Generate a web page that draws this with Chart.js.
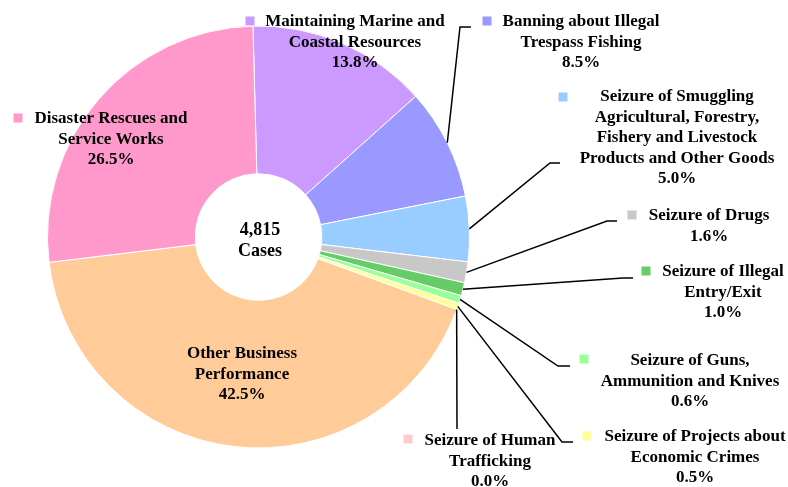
<!DOCTYPE html>
<html>
<head>
<meta charset="utf-8">
<script src="https://cdn.jsdelivr.net/npm/chart.js@4/dist/chart.umd.min.js"></script>
<style>
    html, body { margin: 0; padding: 0; background: #ffffff; }
    #chartBox { width: 788px; height: 487px; }
</style>
</head>
<body>
<div id="chartBox"><canvas id="caseChart" width="788" height="487"></canvas></div>
<script>
// Case breakdown data (shares in %)
const categories = [
    ['Maintaining Marine and', 'Coastal Resources'],
    ['Banning about Illegal', 'Trespass Fishing'],
    ['Seizure of Smuggling', 'Agricultural, Forestry,', 'Fishery and Livestock', 'Products and Other Goods'],
    ['Seizure of Drugs'],
    ['Seizure of Illegal', 'Entry/Exit'],
    ['Seizure of Guns,', 'Ammunition and Knives'],
    ['Seizure of Projects about', 'Economic Crimes'],
    ['Seizure of Human', 'Trafficking'],
    ['Other Business', 'Performance'],
    ['Disaster Rescues and', 'Service Works']
];
const shares = [13.8, 8.5, 5.0, 1.6, 1.0, 0.6, 0.5, 0.0, 42.5, 26.5];
const sliceColors = ['#CC99FF', '#9999FF', '#99CCFF', '#C8C8C8', '#66CC66', '#99FF99', '#FFFF99', '#FFCCCC', '#FFCC99', '#FF99CC'];
const totalCases = '4,815';
const totalUnit = 'Cases';

// Where each label sits (marker, text centre, first line y, leader elbow/end)
const labelLayout = [
    { mx: 250, my: 21, cx: 355, y: 22 },
    { mx: 487, my: 21, cx: 581, y: 22, elbow: [460, 27], end: [471, 27] },
    { mx: 563, my: 97, cx: 677, y: 97, elbow: [550, 163], end: [560, 163] },
    { mx: 632, my: 215, cx: 709, y: 216, elbow: [607, 221], end: [617, 221] },
    { mx: 646, my: 271, cx: 723, y: 272, elbow: [623, 278], end: [633, 278] },
    { mx: 584, my: 359, cx: 690, y: 361, elbow: [558, 366], end: [570, 366] },
    { mx: 587, my: 436, cx: 695, y: 437, elbow: [562, 442], end: [573, 442] },
    { mx: 408, my: 439, cx: 490, y: 441, elbow: [457, 429] },
    { cx: 242, y: 354 },
    { mx: 18, my: 118, cx: 111, y: 119 }
];

const FONT = 'bold 17px "Liberation Serif", "Times New Roman", serif';
const LINE_H = 20.5;

// Draws the outside labels, leader lines and the centre total
const labelPlugin = {
    id: 'sliceLabels',
    afterDraw(chart) {
        const ctx = chart.ctx;
        const arcs = chart.getDatasetMeta(0).data;
        ctx.save();
        ctx.font = FONT;
        ctx.fillStyle = '#000000';
        ctx.textAlign = 'center';
        ctx.textBaseline = 'middle';

        labelLayout.forEach((lay, i) => {
            const arc = arcs[i];
            // leader line from slice edge
            if (lay.elbow) {
                const p = arc.getProps(['x', 'y', 'startAngle', 'endAngle', 'outerRadius'], true);
                const mid = (p.startAngle + p.endAngle) / 2;
                const sx = p.x + Math.cos(mid) * p.outerRadius;
                const sy = p.y + Math.sin(mid) * p.outerRadius;
                ctx.beginPath();
                ctx.strokeStyle = '#000000';
                ctx.lineWidth = 1.5;
                ctx.moveTo(sx, sy);
                ctx.lineTo(lay.elbow[0], lay.elbow[1]);
                if (lay.end) ctx.lineTo(lay.end[0], lay.end[1]);
                ctx.stroke();
            }
            // colour marker
            if (lay.mx !== undefined) {
                ctx.fillStyle = sliceColors[i];
                ctx.fillRect(lay.mx - 4.5, lay.my - 4.5, 9, 9);
                ctx.fillStyle = '#000000';
            }
            const lines = categories[i].concat([shares[i].toFixed(1) + '%']);
            lines.forEach((t, k) => ctx.fillText(t, lay.cx, lay.y + k * LINE_H));
        });

        // centre total
        const c = arcs[0].getProps(['x', 'y'], true);
        ctx.font = 'bold 18px "Liberation Serif", "Times New Roman", serif';
        ctx.fillText(totalCases, c.x + 1.5, c.y - 7);
        ctx.fillText(totalUnit, c.x + 1.5, c.y + 14);
        ctx.restore();
    }
};

const ctx = document.getElementById('caseChart').getContext('2d');
const caseChart = new Chart(ctx, {
    type: 'doughnut',
    data: {
        labels: categories.map(c => c.join(' ')),
        datasets: [{
            data: shares,
            backgroundColor: sliceColors,
            borderColor: '#ffffff',
            borderWidth: 1
        }]
    },
    options: {
        responsive: false,
        animation: false,
        rotation: -1.5,
        cutout: '30%',
        layout: {
            padding: { left: 47, top: 25, right: 318, bottom: 38 }
        },
        plugins: {
            legend: { display: false },
            tooltip: { enabled: false }
        }
    },
    plugins: [labelPlugin]
});
</script>
</body>
</html>
